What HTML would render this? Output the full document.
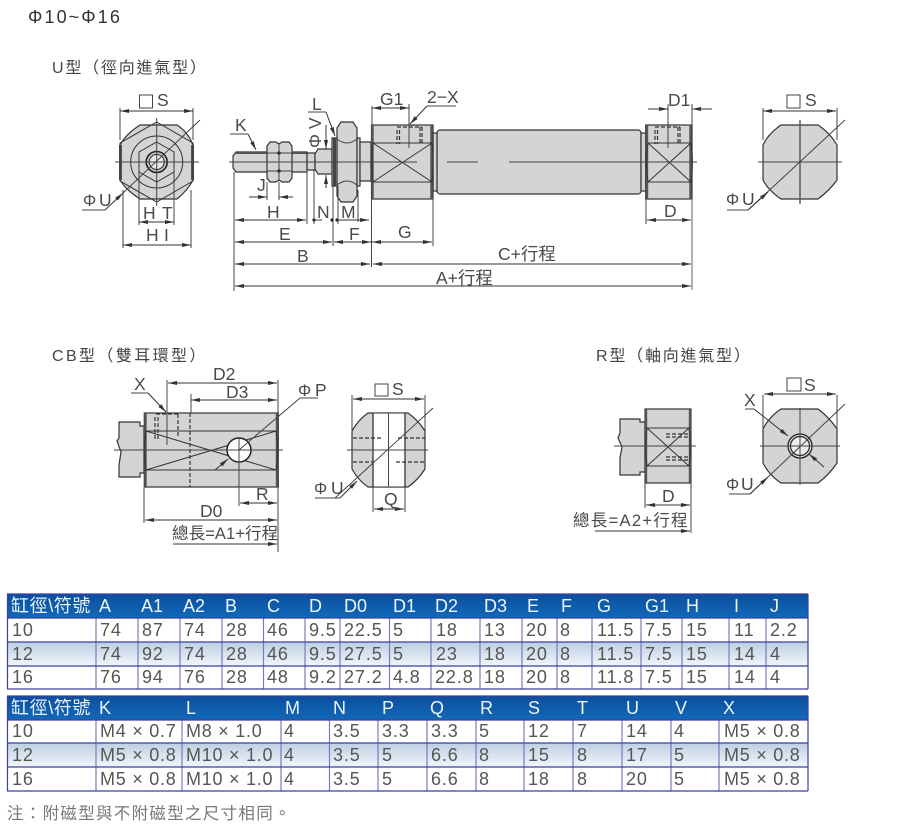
<!DOCTYPE html>
<html><head><meta charset="utf-8"><style>
html,body{margin:0;padding:0;background:#fff;width:901px;height:835px;overflow:hidden}
svg{display:block}
text{font-family:"Liberation Sans","Noto Sans CJK TC",sans-serif;fill:#3c3c3c}
.t{font-size:16px;fill:#444}
.d{font-size:16.5px;fill:#4a4a4a}
.e{font-size:17.5px;fill:#4a4a4a}
.l{fill:none;stroke:#333;stroke-width:1}
.b{fill:none;stroke:#333;stroke-width:1}
.c{stroke:#444;stroke-width:1;fill:none}
.f{fill:#d4d4d4;stroke:#333;stroke-width:1.2}
.k{fill:#555;stroke:none}
.a{fill:none;stroke:#333;stroke-width:1;marker-end:url(#ar)}
.aa{fill:none;stroke:#333;stroke-width:1;marker-end:url(#ar);marker-start:url(#as)}
.ds{fill:none;stroke:#333;stroke-width:1.2;stroke-dasharray:4 2}
.h{font-size:18px;fill:#eef4fb}
.r{font-size:18px;fill:#555;letter-spacing:.9px}
.m{letter-spacing:.75px}
.ln{stroke:#3d3f9e;stroke-width:1.2}
.vl{stroke:#7a7bbd;stroke-width:1.2}
</style></head><body>
<svg width="901" height="835" viewBox="0 0 901 835" xmlns="http://www.w3.org/2000/svg">
<defs>
<marker id="ar" markerWidth="10" markerHeight="6" refX="9" refY="3" orient="auto" markerUnits="userSpaceOnUse"><path d="M0 1L9 3L0 5z" fill="#333"/></marker>
<marker id="as" markerWidth="10" markerHeight="6" refX="0" refY="3" orient="auto" markerUnits="userSpaceOnUse"><path d="M9 1L0 3L9 5z" fill="#333"/></marker>
<linearGradient id="hd" x1="0" y1="0" x2="0" y2="1"><stop offset="0" stop-color="#0c4f9e"/><stop offset="1" stop-color="#1169b8"/></linearGradient>
<linearGradient id="rw" x1="0" y1="0" x2="0" y2="1"><stop offset="0" stop-color="#bccfe2"/><stop offset="1" stop-color="#f2f6fa"/></linearGradient>
</defs>

<text x="28" y="23" style="font-size:18px;letter-spacing:2.1px;fill:#333">Φ10~Φ16</text>
<text x="52" y="73" class="t" style="letter-spacing:1.8px">U型（徑向進氣型）</text>
<text x="52" y="361" class="t" style="letter-spacing:2.4px">CB型（雙耳環型）</text>
<text x="596" y="361" class="t" style="letter-spacing:1.8px">R型（軸向進氣型）</text>

<!-- U left end view -->
<path class="f" d="M120 145Q126 134 140 125H177Q188 132 193 145V180Q188 190 177 199H140Q126 190 120 180z"/>
<path d="M120.500 145V180M192.500 145V180" stroke="#555" stroke-width="3"/>
<path class="b" d="M156.700 122L193 143V181L156.700 202L120 181V143z"/>
<circle class="b" cx="156.700" cy="162" r="26"/>
<path class="b" d="M156.700 142L174 152V172L156.700 182L139 172V152z"/>
<circle cx="156.700" cy="162" r="10.500" fill="#c6c6c6" stroke="#222" stroke-width="1.600"/>
<circle cx="156.700" cy="162" r="7.500" fill="#e8e8e8" stroke="#222"/>
<path class="c" d="M115 162H199M156.700 118V206"/>
<path class="a" d="M105 210L123 193"/>
<path class="c" d="M123 193L200 120M82 210H105"/>
<path class="c" d="M120 108V140M193 108V140"/>
<path class="aa" d="M120 111H193"/>
<rect x="139.500" y="95" width="13" height="13" fill="none" stroke="#444"/>
<text x="157" y="106" class="e">S</text>
<text x="83" y="206" class="d">Φ</text><text x="99" y="206" class="e">U</text>
<path class="c" d="M139 172V225M174 172V225M123 190V248M191 190V248"/>
<path class="aa" d="M139 222H174"/>
<path class="aa" d="M123 245H191"/>
<text x="143" y="219" class="e">H</text><text x="162" y="219" class="e">T</text>
<text x="146" y="241" class="e">H</text><text x="164" y="241" class="e">I</text>

<!-- U rod side -->
<path class="f" d="M236 152H307V172H236L233 168V156z"/>
<path class="k" d="M236 152H307V154H236z"/>
<path class="f" d="M267 146L270 142H276L279 144L282 142H289L292 146V178L289 182H282L279 180L276 182H270L267 178z"/>
<path class="c" d="M267 153H292M267 171H292M279 144V180"/>
<circle cx="279" cy="153" r="1.800" fill="#333"/><circle cx="279" cy="171" r="1.800" fill="#333"/>
<path class="f" d="M307 153H315V170H307z"/>
<path class="f" d="M315 154L318 149H332V174H318L315 169z"/>
<path class="f" d="M332 138H337V186H332z"/>
<path d="M334.500 138V186" stroke="#444" stroke-width="3"/>
<path class="f" d="M337 128L341 122H353L357 128V196L353 202H341L337 196z"/>
<path class="c" d="M337 139Q347 147 357 139M337 185Q347 177 357 185"/>
<path class="f" d="M357 138H360V186H357z"/>
<path class="f" d="M360 142H371V181H360z"/>
<!-- barrel -->
<rect class="f" x="437" y="130" width="204" height="64" rx="3"/>
<rect class="f" x="433" y="133" width="4" height="58"/>
<rect class="f" x="641" y="133" width="5" height="58"/>
<rect class="f" x="371.500" y="125" width="61.500" height="74"/>
<rect class="f" x="645.700" y="125" width="46.300" height="74"/>
<path d="M372.500 125V199M431.500 125V199M647 125V199M690.500 125V199" stroke="#555" stroke-width="2.400"/>
<path class="b" d="M373 143H432M373 182H432M373 143Q371 162 373 182M432 143Q434 162 432 182M373 143L432 182M373 182L432 143"/>
<path class="b" d="M648 143H691M648 182H691M648 143Q645 162 648 182M691 143Q694 162 691 182M648 143L691 182M648 182L691 143"/>
<path class="ds" d="M397 127H422M397 130V144M399.500 130V144M422 127V144M420 127V144"/>
<path class="ds" d="M655 127H680M655 130V144M657.500 130V144M680 127V144M678 127V144"/>
<path class="c" d="M229 162H417M447 162H478M509 162H697"/>
<path class="c" d="M409 104V148M668 104V148"/>
<path class="c" d="M372 106V125"/>
<path class="aa" d="M372 108H409"/>
<text x="380" y="105" class="e">G1</text>
<path class="a" d="M427 106L410 124"/>
<path class="c" d="M427 106H456"/>
<text x="427" y="103" class="e">2−X</text>
<path class="c" d="M692 104V125"/>
<path class="a" d="M648 109H668"/><path class="a" d="M712 109H692"/>
<text x="668" y="106" class="e">D1</text>
<!-- U leader labels -->
<text x="235" y="131" class="e">K</text>
<path class="c" d="M230 134H248"/><path class="a" d="M248 134L256 150"/>
<text x="312" y="110" class="e">L</text>
<path class="c" d="M308 112H326"/><path class="a" d="M326 112L335 136"/>
<text transform="translate(321,148) rotate(-90)" class="e">Φ V</text>
<path class="a" d="M326 125V149"/><path class="a" d="M326 188V175"/>
<text x="257" y="191" class="e">J</text>
<path class="a" d="M249 197H267"/><path class="a" d="M293 197H279"/>
<path class="c" d="M267 182V200M279 182V200"/>
<path class="c" d="M307 170V224M314 170V224M333 186V246M338 186V224M358 190V222M371.500 199V267M234 172V291"/>
<path class="aa" d="M235 220H306"/>
<text x="267" y="218" class="e">H</text>
<circle cx="314" cy="220" r="1.600" fill="#222"/><circle cx="332" cy="220" r="1.600" fill="#222"/><circle cx="337" cy="220" r="1.600" fill="#222"/>
<path class="a" d="M337 220H369"/>
<path class="c" d="M314 220H322"/>
<text x="317" y="218" class="e">N</text><text x="341" y="218" class="e">M</text>
<path class="aa" d="M235 242H332"/>
<text x="279" y="240" class="e">E</text>
<path class="aa" d="M334 242H371"/>
<text x="349" y="240" class="e">F</text>
<path class="c" d="M433 199V246"/>
<path class="aa" d="M372 242H432"/>
<text x="398" y="238" class="e">G</text>
<path class="c" d="M646 199V224"/>
<path class="aa" d="M647 220H691"/>
<text x="664" y="217" class="e">D</text>
<path class="aa" d="M235 264H370"/>
<text x="297" y="262" class="e">B</text>
<path class="aa" d="M373 264H691"/>
<text x="498" y="260" class="e">C+行程</text>
<path class="aa" d="M235 286H691"/>
<text x="436" y="284" class="e">A+行程</text>
<path d="M692 199V290" stroke="#666" stroke-width="1"/>

<!-- U right end view -->
<path class="f" d="M763 145Q768 134 781 125H818Q830 133 837 145V180Q830 190 818 199H781Q768 190 763 180z"/>
<path class="c" d="M758 162H842"/><path d="M800 120V204" stroke="#555" stroke-width="1.400"/>
<path class="c" d="M763 108V140M837 108V140"/>
<path class="aa" d="M763 111H836"/>
<rect x="787" y="95" width="13" height="13" fill="none" stroke="#444"/>
<text x="805" y="106" class="e">S</text>
<path class="c" d="M748 210L845 120M727 210H748"/>
<path class="a" d="M748 210L768 192"/>
<text x="726" y="205" class="d">Φ</text><text x="742" y="205" class="e">U</text>

<!-- CB side -->
<path class="f" d="M119 422H140V426H144V473H140V477H119V465L121 452L117 441L119 438z"/>
<rect class="f" x="144.300" y="413" width="134" height="74"/>
<path d="M145.500 413V487M277 413V487" stroke="#555" stroke-width="2.400"/>
<path class="b" d="M146 431H276M146 470H276M146 431L276 470M146 470L276 431M146 431Q143 450 146 470M276 431Q279 450 276 470"/>
<path class="ds" d="M156 414H178M178 414V438M155 417V440M158 417V440"/>
<path class="ds" d="M190 413V487"/>
<circle cx="239" cy="450" r="12" fill="#fff" stroke="#222" stroke-width="1.500"/>
<path class="c" d="M114 450H283M239 438V506M239 450L300 398H318M167 392V445"/>
<path class="a" d="M215 470L228 459"/>
<path class="c" d="M131 393H148"/><path class="a" d="M148 393L166 412"/>
<text x="134" y="390" class="e">X</text>
<path class="c" d="M278 380V552M191 394V413M144 487V523M167 380V392"/>
<path class="aa" d="M168 383H277"/>
<text x="213" y="380" class="e">D2</text>
<path class="aa" d="M191 400H277"/>
<text x="226" y="398" class="e">D3</text>
<text x="298" y="396" class="d">Φ</text><text x="315" y="396" class="e">P</text>
<path class="aa" d="M240 503H277"/>
<text x="256" y="500" class="e">R</text>
<path class="aa" d="M145 520H277"/>
<text x="200" y="517" class="e">D0</text>
<text x="172" y="539" class="d" style="letter-spacing:.1px">總長=A1+行程</text>
<path class="a" d="M173 544H277"/>

<!-- CB end view -->
<path class="f" d="M352 431Q358 420 368 413H408Q418 420 425 431V469Q418 480 408 487H368Q358 480 352 469z"/>
<rect x="373" y="413" width="32" height="74" fill="#fff"/>
<path class="b" d="M368 413H408M368 487H408"/>
<path d="M373 413V487M405 413V487" stroke="#333" stroke-width="1.300"/>
<path class="ds" d="M353 438H382M398 438H425M353 462H373M396 462H425"/>
<path class="c" d="M347 450H428M388.500 413V487"/>
<path class="c" d="M352 395V431M425 395V431"/>
<path class="aa" d="M353 399H424"/>
<rect x="375" y="384" width="13" height="12" fill="none" stroke="#444"/>
<text x="392" y="395" class="e">S</text>
<path class="c" d="M335 498L433 408M315 498H340"/>
<path class="a" d="M340 498L357 481"/>
<text x="314" y="494" class="d">Φ</text><text x="331" y="494" class="e">U</text>
<path class="c" d="M373 487V512M405 487V512"/>
<path class="aa" d="M374 509H404"/>
<text x="384" y="505" class="e">Q</text>

<!-- R side -->
<path class="f" d="M620 419H640V422H645V472H640V475H620V458L622 447L618 438L620 433z"/>
<rect class="f" x="645" y="409" width="46" height="74"/>
<path d="M646 409V483M690 409V483" stroke="#555" stroke-width="2.400"/>
<path class="b" d="M647 428H689M647 466H689M647 428L689 466M647 466L689 428M647 428Q644 446 647 466M689 428Q692 446 689 466"/>
<path class="ds" d="M666 434H689M666 437H689M666 457H689M666 460H689"/>
<path class="c" d="M614 446H696"/>
<path class="c" d="M645 483V508M691 483V533"/>
<path class="aa" d="M646 505H690"/>
<text x="662" y="502" class="e">D</text>
<text x="573" y="526" class="d" style="letter-spacing:1.300px">總長=A2+行程</text>
<path class="a" d="M595 531H690"/>

<!-- R end view -->
<path class="f" d="M763 429Q769 417 781 409H818Q829 417 837 429V463Q829 475 818 483H781Q769 475 763 463z"/>
<circle cx="800" cy="446" r="12" fill="#ddd" stroke="#222" stroke-width="1.300"/>
<circle cx="800" cy="446" r="9.500" fill="#eee" stroke="#222" stroke-width="1.200"/>
<path class="c" d="M760 446H840M800 408V485"/>
<path class="c" d="M763 395V430M837 395V430"/>
<path class="aa" d="M764 394H836"/>
<rect x="787" y="378" width="14" height="13" fill="none" stroke="#444"/>
<text x="804" y="391" class="e">S</text>
<path class="c" d="M745 409H754"/><path class="a" d="M754 409L788 436"/>
<text x="744" y="406" class="e">X</text>
<path class="a" d="M824 467L809 454"/>
<path class="c" d="M750 494L845 404M729 494H750"/>
<path class="a" d="M750 494L768 477"/>
<text x="726" y="490" class="d">Φ</text><text x="741" y="490" class="e">U</text>

<!-- Table 1 -->
<rect x="7" y="594" width="801" height="24" fill="url(#hd)"/>
<rect x="7" y="618" width="801" height="71" fill="#fff"/>
<rect x="8" y="642" width="800" height="24" fill="url(#rw)"/>
<path class="vl" d="M96 618V689M138 618V689M180 618V689M222 618V689M263.500 618V689M305 618V689M340 618V689M389.500 618V689M431 618V689M480 618V689M522 618V689M557 618V689M592 618V689M641 618V689M682 618V689M729 618V689M766 618V689"/>
<path class="ln" d="M7 618H808M7 642H808M7 666H808M7 689H808M7.500 594V689M808 594V689M7 594H808"/>
<text class="h" x="11" y="612" style="letter-spacing:.6px">缸徑\符號</text>
<text class="h" x="99" y="612">A</text><text class="h" x="141" y="612">A1</text><text class="h" x="183" y="612">A2</text><text class="h" x="225" y="612">B</text><text class="h" x="267" y="612">C</text><text class="h" x="309" y="612">D</text><text class="h" x="344" y="612">D0</text><text class="h" x="393" y="612">D1</text><text class="h" x="435" y="612">D2</text><text class="h" x="484" y="612">D3</text><text class="h" x="527" y="612">E</text><text class="h" x="561" y="612">F</text><text class="h" x="597" y="612">G</text><text class="h" x="645" y="612">G1</text><text class="h" x="686" y="612">H</text><text class="h" x="734" y="612">I</text><text class="h" x="770" y="612">J</text>
<text class="r" x="12" y="636">10</text><text class="r" x="100" y="636">74</text><text class="r" x="142" y="636">87</text><text class="r" x="184" y="636">74</text><text class="r" x="226" y="636">28</text><text class="r" x="267" y="636">46</text><text class="r" x="309" y="636">9.5</text><text class="r" x="344" y="636">22.5</text><text class="r" x="393" y="636">5</text><text class="r" x="436" y="636">18</text><text class="r" x="484" y="636">13</text><text class="r" x="526" y="636">20</text><text class="r" x="560" y="636">8</text><text class="r" x="597" y="636">11.5</text><text class="r" x="645" y="636">7.5</text><text class="r" x="686" y="636">15</text><text class="r" x="734" y="636">11</text><text class="r" x="770" y="636">2.2</text>
<text class="r" x="12" y="660">12</text><text class="r" x="100" y="660">74</text><text class="r" x="142" y="660">92</text><text class="r" x="184" y="660">74</text><text class="r" x="226" y="660">28</text><text class="r" x="267" y="660">46</text><text class="r" x="309" y="660">9.5</text><text class="r" x="344" y="660">27.5</text><text class="r" x="393" y="660">5</text><text class="r" x="436" y="660">23</text><text class="r" x="484" y="660">18</text><text class="r" x="526" y="660">20</text><text class="r" x="560" y="660">8</text><text class="r" x="597" y="660">11.5</text><text class="r" x="645" y="660">7.5</text><text class="r" x="686" y="660">15</text><text class="r" x="734" y="660">14</text><text class="r" x="770" y="660">4</text>
<text class="r" x="12" y="683">16</text><text class="r" x="100" y="683">76</text><text class="r" x="142" y="683">94</text><text class="r" x="184" y="683">76</text><text class="r" x="226" y="683">28</text><text class="r" x="267" y="683">48</text><text class="r" x="309" y="683">9.2</text><text class="r" x="344" y="683">27.2</text><text class="r" x="393" y="683">4.8</text><text class="r" x="435" y="683">22.8</text><text class="r" x="484" y="683">18</text><text class="r" x="526" y="683">20</text><text class="r" x="560" y="683">8</text><text class="r" x="597" y="683">11.8</text><text class="r" x="645" y="683">7.5</text><text class="r" x="686" y="683">15</text><text class="r" x="734" y="683">14</text><text class="r" x="770" y="683">4</text>

<!-- Table 2 -->
<rect x="7" y="696" width="801" height="24" fill="url(#hd)"/>
<rect x="7" y="720" width="801" height="71" fill="#fff"/>
<rect x="8" y="743" width="800" height="24" fill="url(#rw)"/>
<path class="vl" d="M96 720V791M182 720V791M281 720V791M329.500 720V791M378 720V791M427 720V791M476 720V791M524 720V791M573 720V791M622 720V791M671 720V791M719 720V791"/>
<path class="ln" d="M7 720H808M7 743H808M7 767H808M7 791H808M7.500 696V791M808 696V791M7 696H808"/>
<text class="h" x="11" y="714" style="letter-spacing:.6px">缸徑\符號</text>
<text class="h" x="99" y="714">K</text><text class="h" x="186" y="714">L</text><text class="h" x="285" y="714">M</text><text class="h" x="333" y="714">N</text><text class="h" x="382" y="714">P</text><text class="h" x="430" y="714">Q</text><text class="h" x="480" y="714">R</text><text class="h" x="528" y="714">S</text><text class="h" x="577" y="714">T</text><text class="h" x="626" y="714">U</text><text class="h" x="675" y="714">V</text><text class="h" x="723" y="714">X</text>
<text class="r" x="12" y="737">10</text><text class="r m" x="100" y="737">M4 × 0.7</text><text class="r m" x="186" y="737">M8 × 1.0</text><text class="r" x="284" y="737">4</text><text class="r" x="333" y="737">3.5</text><text class="r" x="382" y="737">3.3</text><text class="r" x="431" y="737">3.3</text><text class="r" x="479" y="737">5</text><text class="r" x="528" y="737">12</text><text class="r" x="577" y="737">7</text><text class="r" x="626" y="737">14</text><text class="r" x="674" y="737">4</text><text class="r m" x="724" y="737">M5 × 0.8</text>
<text class="r" x="12" y="761">12</text><text class="r m" x="100" y="761">M5 × 0.8</text><text class="r m" x="186" y="761">M10 × 1.0</text><text class="r" x="284" y="761">4</text><text class="r" x="333" y="761">3.5</text><text class="r" x="382" y="761">5</text><text class="r" x="431" y="761">6.6</text><text class="r" x="479" y="761">8</text><text class="r" x="528" y="761">15</text><text class="r" x="577" y="761">8</text><text class="r" x="626" y="761">17</text><text class="r" x="674" y="761">5</text><text class="r m" x="724" y="761">M5 × 0.8</text>
<text class="r" x="12" y="785">16</text><text class="r m" x="100" y="785">M5 × 0.8</text><text class="r m" x="186" y="785">M10 × 1.0</text><text class="r" x="284" y="785">4</text><text class="r" x="333" y="785">3.5</text><text class="r" x="382" y="785">5</text><text class="r" x="431" y="785">6.6</text><text class="r" x="479" y="785">8</text><text class="r" x="528" y="785">18</text><text class="r" x="577" y="785">8</text><text class="r" x="626" y="785">20</text><text class="r" x="674" y="785">5</text><text class="r m" x="724" y="785">M5 × 0.8</text>

<text x="7" y="819" style="font-size:16.5px;fill:#777;letter-spacing:1.300px">注：附磁型與不附磁型之尺寸相同。</text>
</svg>
</body></html>
